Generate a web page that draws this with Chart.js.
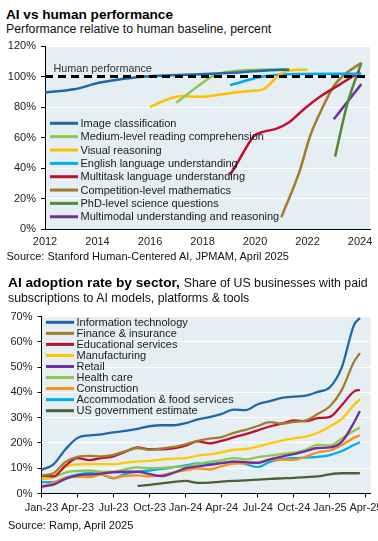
<!DOCTYPE html>
<html lang="en">
<head>
    <meta charset="UTF-8">
    <title>AI vs human performance / AI adoption rate by sector</title>
    <script src="https://cdn.jsdelivr.net/npm/chart.js"></script>
    <style>
        body {
            margin: 0;
            width: 378px;
            height: 541px;
            position: relative;
            overflow: hidden;
            background: #fff;
            font-family: "Liberation Sans", Arial, sans-serif;
            color: #111;
        }
        .txt { position: absolute; line-height: 1; white-space: nowrap; }
        .title { font-weight: bold; color: #000; }
        #topChart { position: absolute; left: 0; top: 38px; }
        #bottomChart { position: absolute; left: 0; top: 306px; }
    </style>
</head>
<body>
    <div class="txt title" style="left:6px; top:8px; font-size:13.6px;">AI vs human performance</div>
    <div class="txt" style="left:6px; top:22.8px; font-size:12.3px;">Performance relative to human baseline, percent</div>
    <canvas id="topChart" width="378" height="214"></canvas>
    <div class="txt" style="left:6.5px; top:251.2px; font-size:11px;">Source: Stanford Human-Centered AI, JPMAM, April 2025</div>

    <div class="txt" style="left:8px; top:276.4px; font-size:13.7px;"><span class="title">AI adoption rate by sector,</span> <span style="font-size:12.3px;">Share of US businesses with paid</span></div>
    <div class="txt" style="left:8px; top:292px; font-size:12.3px;">subscriptions to AI models, platforms &amp; tools</div>
    <canvas id="bottomChart" width="378" height="214"></canvas>
    <div class="txt" style="left:8px; top:519.7px; font-size:11px;">Source: Ramp, April 2025</div>

    <script>
        // ---- AI vs human performance (percent of human baseline) ----
        const humanBaseline = 100;
        const topYearMin = 2012;
        const topYearMax = 2024.38;

        const imgYears = [2012, 2013.1, 2014.1, 2015.35, 2016.65, 2017.9, 2019.15, 2020.45, 2021.3];
        const imgVals = [89.5, 91.6, 96, 99.2, 100.7, 101.4, 102.5, 104, 104.5];
        const readYears = [2017, 2017.9, 2018.5, 2019.15, 2020.45, 2021.3];
        const readVals = [82.8, 94.6, 101.2, 103.4, 104.6, 104.6];
        const visYears = [2016, 2016.65, 2017.15, 2017.9, 2019.15, 2019.8, 2020.3, 2020.75, 2021.05, 2021.7, 2022];
        const visVals = [80, 84.9, 87.1, 86.7, 89.4, 90.5, 91.6, 98.2, 102.6, 104.5, 104.5];
        const engYears = [2019.05, 2019.6, 2020.3, 2021.3, 2023, 2024.05];
        const engVals = [94.3, 97.1, 100, 101.5, 101.8, 101.8];
        const mmluYears = [2019.05, 2019.25, 2019.55, 2019.95, 2020.3, 2020.8, 2021.3, 2021.85, 2022.5, 2023.25, 2024];
        const mmluVals = [35.6, 41, 50, 60.8, 63.7, 65.7, 70, 78.4, 87, 95, 103];
        const mathYears = [2021, 2021.7, 2022.1, 2022.6, 2023, 2023.35, 2024.05];
        const mathVals = [7.7, 38, 61, 80.6, 93.8, 100.4, 109];
        const phdYears = [2023.05, 2023.5, 2024.05];
        const phdVals = [47.5, 81, 109];
        const mmYears = [2023, 2024.05];
        const mmVals = [72, 95];

        // ---- AI adoption rate by sector (months since Jan-23) ----
        const months = [0, 1, 2, 3, 4, 5, 6, 7, 8, 9, 10, 11, 12, 13, 14, 15, 16, 17, 18, 19, 20, 21, 22, 23, 24, 25, 26, 26.5];
        const itVals = [9.4, 11.5, 17.5, 22, 23, 23.4, 24.2, 24.8, 25.6, 26.6, 27, 27, 27.8, 29.3, 30.2, 31.5, 33.2, 33, 35.3, 36.5, 37.8, 38.3, 38.7, 40.2, 42, 50, 66.5, 69.4];
        const financeVals = [7.1, 8, 12.5, 14.5, 14.9, 14.7, 15.3, 16.8, 18, 17.3, 17.8, 18.4, 19.5, 20.8, 21.7, 22.3, 24, 25.2, 26.7, 28.2, 27.6, 28.3, 28.9, 31.5, 34.5, 41, 52, 55.5];
        const eduVals = [7.1, 6.8, 11, 14, 13.2, 14, 14.7, 16.5, 18.2, 17.5, 17.5, 17.9, 18.9, 20.6, 19.8, 20.8, 22.2, 23.5, 25, 26.5, 27.6, 28.9, 28.6, 29.8, 30.3, 35, 40.3, 41];
        const manufVals = [5.8, 6.8, 10.5, 11.5, 11.6, 11.6, 11.6, 12.2, 12.7, 12.9, 13.4, 13.8, 14, 15, 15.5, 16.3, 17.3, 17.6, 18.6, 19.8, 20.9, 21.8, 22.5, 24, 26.5, 29.5, 35, 37.3];
        const retailVals = [2.7, 3.5, 5.8, 7.2, 7.5, 7.9, 8.4, 8.6, 8.6, 7.7, 6.9, 8.2, 10, 10.7, 11.3, 12, 12.6, 12.4, 12.1, 13.5, 14.6, 15.6, 16.8, 18, 18.2, 20.5, 28, 32.6];
        const healthVals = [5.8, 6.4, 8.3, 8.9, 9.1, 8.5, 8.6, 9.6, 10.3, 10, 10.1, 10.4, 10.7, 11.7, 12.5, 13.2, 14, 13.5, 14.4, 15, 15.6, 16.2, 17.3, 19.2, 19, 21.8, 24.8, 26];
        const constrVals = [2.7, 4.2, 6.2, 6.6, 6.5, 7.5, 6.2, 7, 7.2, 6.8, 7.3, 8.4, 9.2, 9.9, 9.5, 10.8, 11.8, 11.9, 12.2, 13.3, 13.4, 13.3, 14.6, 16.3, 17, 19.2, 22, 23];
        const accomVals = [4.5, 4.5, 6.3, 7.5, 8, 7.6, 6, 7.8, 8.6, 9.1, 9.7, 10.4, 11.1, 11.9, 11.9, 12.1, 12.6, 11.6, 10.4, 12.5, 13.6, 14, 14.2, 14.5, 15.2, 16.8, 19.2, 20.2];
        const govVals = [null, null, null, null, null, null, null, null, 3, 3.4, 4, 4.6, 5, 4.2, 4.3, 4.7, 5, 5.2, 5.5, 5.8, 6, 6.2, 6.5, 6.8, 7.6, 8, 8, 8];

        const xTickMonths = [0, 3, 6, 9, 12, 15, 18, 21, 24, 27];
        const xTickLabels = ['Jan-23', 'Apr-23', 'Jul-23', 'Oct-23', 'Jan-24', 'Apr-24', 'Jul-24', 'Oct-24', 'Jan-25', 'Apr-25'];

        const FONT = '"Liberation Sans", Arial, sans-serif';
        Chart.defaults.font.family = FONT;
        Chart.defaults.font.size = 11;
        Chart.defaults.color = '#222';

        function pts(xs, ys) {
            return xs.map((x, i) => ({ x: x, y: ys[i] }));
        }

        function series(label, xs, ys, color, width) {
            return { label: label, data: pts(xs, ys), borderColor: color, borderWidth: width, inLegend: true };
        }

        // plot area fill
        const plotBg = {
            id: 'plotBg',
            beforeDraw(chart) {
                const a = chart.chartArea;
                const ctx = chart.ctx;
                ctx.save();
                ctx.fillStyle = '#e5eef2';
                ctx.fillRect(a.left, a.top, a.right - a.left, a.bottom - a.top);
                ctx.restore();
            }
        };

        // legend drawn inside the plot area
        const boxLegend = {
            id: 'boxLegend',
            afterDraw(chart, args, opts) {
                const a = chart.chartArea;
                const ctx = chart.ctx;
                ctx.save();
                ctx.font = '11px ' + FONT;
                ctx.textBaseline = 'middle';
                let y = a.top + opts.top;
                chart.data.datasets.forEach(ds => {
                    if (!ds.inLegend) return;
                    const x0 = a.left + opts.left;
                    ctx.strokeStyle = ds.borderColor;
                    ctx.lineWidth = 3;
                    ctx.beginPath();
                    ctx.moveTo(x0, y);
                    ctx.lineTo(x0 + 28, y);
                    ctx.stroke();
                    ctx.fillStyle = '#1a1a1a';
                    ctx.fillText(ds.label, x0 + 30.5, y + 0.5);
                    y += opts.step;
                });
                ctx.restore();
            }
        };

        // "Human performance" note above the dashed line
        const humanLabel = {
            id: 'humanLabel',
            afterDatasetsDraw(chart) {
                const ctx = chart.ctx;
                const x = chart.scales.x.getPixelForValue(2012.32);
                const y = chart.scales.y.getPixelForValue(humanBaseline) - 4.5;
                ctx.save();
                ctx.font = '10.8px ' + FONT;
                ctx.fillStyle = '#333';
                ctx.textBaseline = 'alphabetic';
                ctx.fillText('Human performance', x, y);
                ctx.restore();
            }
        };

        function yGrid(c) {
            return (c.tick && c.tick.value === 0) ? 'rgba(0,0,0,0)' : '#ffffff';
        }

        new Chart(document.getElementById('topChart'), {
            type: 'line',
            data: {
                datasets: [
                    {
                        label: 'Human performance',
                        data: [{ x: topYearMin, y: humanBaseline }, { x: topYearMax, y: humanBaseline }],
                        borderColor: '#000',
                        borderWidth: 3,
                        borderDash: [8, 5],
                        inLegend: false
                    },
                    series('Image classification', imgYears, imgVals, '#1f67a6', 2.5),
                    series('Medium-level reading comprehension', readYears, readVals, '#8cc84b', 2.5),
                    series('Visual reasoning', visYears, visVals, '#ffc000', 2.5),
                    series('English language understanding', engYears, engVals, '#00aeef', 2.5),
                    series('Multitask language understanding', mmluYears, mmluVals, '#c0102f', 2.5),
                    series('Competition-level mathematics', mathYears, mathVals, '#a07d2d', 2.5),
                    series('PhD-level science questions', phdYears, phdVals, '#4e8a30', 2.5),
                    series('Multimodal understanding and reasoning', mmYears, mmVals, '#7030a0', 2.5)
                ]
            },
            options: {
                responsive: false,
                animation: false,
                layout: { padding: { top: 8, right: 8, left: 0, bottom: 0 } },
                elements: {
                    point: { radius: 0 },
                    line: { cubicInterpolationMode: 'monotone', borderCapStyle: 'butt' }
                },
                plugins: {
                    legend: { display: false },
                    tooltip: { enabled: false },
                    boxLegend: { top: 77.3, left: 5, step: 13.35 }
                },
                scales: {
                    x: {
                        type: 'linear',
                        min: topYearMin,
                        max: topYearMax,
                        afterFit(s) { s.height = 23; s.paddingLeft = 0; s.paddingRight = 0; },
                        grid: { display: false, drawTicks: false },
                        border: { display: true, color: '#000', width: 1 },
                        ticks: { stepSize: 2, includeBounds: false, padding: 6, maxRotation: 0, callback: v => String(v) }
                    },
                    y: {
                        min: 0,
                        max: 120,
                        afterFit(s) { s.width = 45; s.paddingTop = 0; s.paddingBottom = 0; },
                        grid: { color: yGrid, lineWidth: 1, tickColor: '#000', tickLength: 4 },
                        border: { color: '#000', width: 1 },
                        ticks: { stepSize: 20, padding: 5, callback: v => v + '%' }
                    }
                }
            },
            plugins: [plotBg, boxLegend, humanLabel]
        });

        new Chart(document.getElementById('bottomChart'), {
            type: 'line',
            data: {
                datasets: [
                    series('Information technology', months, itVals, '#1f67a6', 2.3),
                    series('Finance & insurance', months, financeVals, '#a07d2d', 2.3),
                    series('Educational services', months, eduVals, '#c0102f', 2.3),
                    series('Manufacturing', months, manufVals, '#ffc800', 2.3),
                    series('Retail', months, retailVals, '#7030a0', 2.3),
                    series('Health care', months, healthVals, '#8cc84b', 2.3),
                    series('Construction', months, constrVals, '#f7901e', 2.3),
                    series('Accommodation & food services', months, accomVals, '#00aeef', 2.3),
                    series('US government estimate', months, govVals, '#4e5f36', 2.3)
                ]
            },
            options: {
                responsive: false,
                animation: false,
                layout: { padding: { top: 10.5, right: 7.3, left: 0, bottom: 0 } },
                elements: {
                    point: { radius: 0 },
                    line: { cubicInterpolationMode: 'monotone', borderCapStyle: 'butt' }
                },
                plugins: {
                    legend: { display: false },
                    tooltip: { enabled: false },
                    boxLegend: { top: 5.8, left: 4.5, step: 11.05 }
                },
                scales: {
                    x: {
                        type: 'linear',
                        min: 0,
                        max: 27.4,
                        afterFit(s) { s.height = 26.5; s.paddingLeft = 0; s.paddingRight = 0; },
                        afterBuildTicks(s) { s.ticks = xTickMonths.map(v => ({ value: v })); },
                        grid: { drawOnChartArea: false, drawTicks: true, tickLength: 4, color: '#000', tickColor: '#000' },
                        border: { display: true, color: '#000', width: 1 },
                        ticks: { autoSkip: false, maxRotation: 0, minRotation: 0, padding: 4, callback: (v, i) => xTickLabels[i] }
                    },
                    y: {
                        min: 0,
                        max: 70,
                        afterFit(s) { s.width = 41.5; s.paddingTop = 0; s.paddingBottom = 0; },
                        grid: { color: yGrid, lineWidth: 1, tickColor: '#000', tickLength: 4 },
                        border: { color: '#000', width: 1 },
                        ticks: { stepSize: 10, padding: 5, callback: v => v + '%' }
                    }
                }
            },
            plugins: [plotBg, boxLegend]
        });
    </script>
</body>
</html>
